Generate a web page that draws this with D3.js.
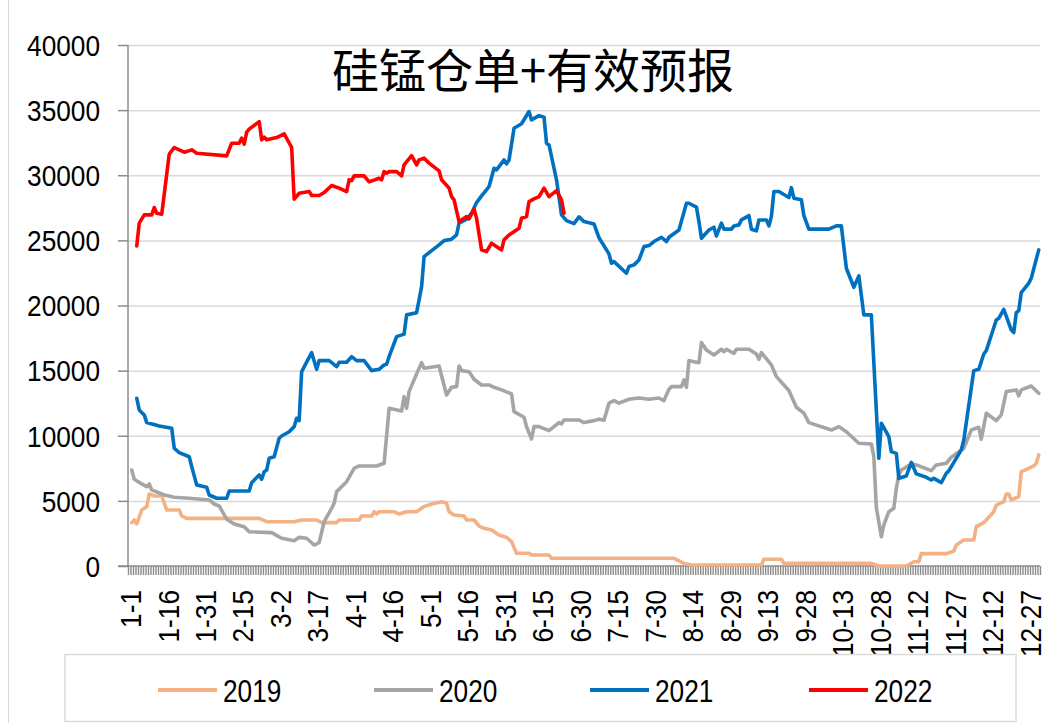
<!DOCTYPE html>
<html><head><meta charset="utf-8">
<script src="https://cdn.jsdelivr.net/npm/d3@7/dist/d3.min.js"></script>
<style>
html,body{margin:0;padding:0;background:#fff;}
svg{display:block;}
</style>
</head><body>
<svg id="c" width="1051" height="723"></svg>
<script>
// ---------- data ----------
const title = "硅锰仓单+有效预报";
const monthDays = [31,28,31,30,31,30,31,31,30,31,30,31];
const categories = [];
monthDays.forEach((n, m) => { for (let d = 1; d <= n; d++) categories.push((m + 1) + "-" + d); });
const tickLabels = ["1-1","1-16","1-31","2-15","3-2","3-17","4-1","4-16","5-1","5-16","5-31","6-15","6-30",
  "7-15","7-30","8-14","8-29","9-13","9-28","10-13","10-28","11-12","11-27","12-12","12-27"];
const yTicks = [0,5000,10000,15000,20000,25000,30000,35000,40000];
const seriesNames = ["2019","2020","2021","2022"];
const seriesColors = ["#F4B183","#A5A5A5","#0070C0","#FF0000"];

// day index (0 = 1-1) and value
const days2019 = [1,2,3,5,7,8,10,13,14,15,20,21,23,52,55,66,69,75,77,83,84,92,93,97,98,99,100,106,108,111,115,118,121,125,127,128,130,134,135,138,140,142,145,148,151,153,155,160,161,168,169,218,222,225,253,254,261,262,297,300,311,314,316,317,327,330,331,334,338,339,342,343,346,347,350,351,352,353,356,357,358,362,363,364];
const vals2019 = [3330,3530,3230,4300,4560,5530,5380,5380,4820,4300,4300,3840,3660,3660,3400,3400,3530,3530,3330,3330,3530,3530,3840,3840,4170,3990,4170,4170,3990,4170,4170,4560,4760,4940,4820,4170,3920,3840,3530,3530,3070,2890,2760,2380,2200,1870,975,975,845,845,590,590,200,80,80,520,520,200,200,0,0,330,330,950,950,1150,1610,2000,2000,3020,3330,3530,4170,4680,4940,5530,5530,5070,5320,7240,7320,7680,7890,8530];

const days2020 = [1,2,5,7,8,9,14,18,24,32,34,36,39,42,46,48,57,61,66,68,71,74,76,78,81,82,83,87,90,92,99,102,104,109,110,111,112,115,117,118,124,127,129,131,132,133,136,138,141,144,146,149,153,154,158,159,161,162,164,168,172,173,174,180,182,186,188,190,192,194,196,200,204,208,212,214,216,217,221,222,223,224,226,228,229,231,234,237,238,239,242,243,248,251,252,253,257,259,264,267,270,272,281,284,287,292,297,298,299,301,302,304,306,307,308,309,313,315,321,323,327,329,334,337,340,341,343,347,349,351,355,356,357,361,364];
const vals2020 = [7370,6660,6300,6090,6300,5840,5450,5280,5200,5070,4760,4610,3590,3230,3020,2630,2560,2130,1940,2200,2130,1610,1790,3400,4430,4820,5710,6470,7500,7680,7680,7890,12110,11900,13000,12110,13390,14750,15610,15180,15360,13130,13720,13770,15360,15000,14920,14340,13900,13900,13720,13520,13210,11850,11420,10700,9750,10700,10700,10390,11010,10910,11210,11210,11010,11160,11270,11200,12500,12700,12500,12800,12900,12800,12900,12700,13570,13770,13770,14290,13720,15770,15690,15610,17150,16590,16200,16640,16460,16640,16330,16640,16640,16280,15870,16380,15440,14540,13470,12190,11730,11010,10440,10700,10310,9420,9370,8390,4500,2250,3150,4170,4430,5970,6990,7370,7830,7760,7320,7760,7890,8350,9040,10440,10650,9730,11730,11160,11600,13390,13520,13060,13520,13820,13260];

const days2021 = [3,4,6,7,12,17,18,20,24,25,27,31,32,35,39,40,48,49,52,53,54,55,56,58,60,61,64,66,67,68,69,73,75,76,80,83,84,87,89,91,94,97,100,102,103,104,107,110,111,115,116,117,118,120,124,126,129,131,132,135,137,139,141,144,146,147,150,151,152,154,157,160,161,164,166,167,168,171,173,175,178,180,182,186,188,192,193,194,199,200,202,204,206,208,210,213,215,216,220,223,224,227,228,229,232,234,235,237,238,241,242,244,245,248,249,251,252,255,256,257,258,260,264,265,266,269,270,272,280,283,285,287,290,292,294,297,300,301,304,305,307,308,311,313,315,319,321,322,325,327,328,333,334,338,340,342,343,347,348,350,353,354,355,356,357,360,361,364];
const vals2021 = [12880,11980,11600,11010,10750,10570,9040,8700,8390,7630,6220,6040,5450,5200,5200,5760,5760,6400,6990,6660,7240,7370,8270,8390,9810,9980,10310,10700,11340,11160,14920,16380,15100,15770,15770,15310,15640,15640,16070,15770,15770,15000,15100,15440,15490,16070,17610,17800,19280,19450,20430,21450,23750,24060,24650,24980,25090,25420,26320,26630,27090,27900,28420,29130,30540,30410,31180,30870,31180,33610,33950,34890,34250,34580,34460,32460,32330,29650,26960,26520,26290,26800,26440,26260,25200,23960,23250,23370,22480,22990,23120,23500,24520,24600,24910,25240,24910,25240,25800,27850,27850,27550,26440,25170,25800,26010,25340,26320,25860,25860,26110,26190,26570,26900,25860,25730,26570,26570,26110,26830,28750,28750,28290,29050,28240,28110,26900,25860,25860,26110,26110,22860,21400,22270,19280,19280,8270,10960,9930,8780,8650,6730,6910,7960,7070,6810,6600,6730,6400,7120,7300,8910,9680,15000,15100,16280,16540,18890,19020,19710,18120,17920,19450,19610,20990,21710,22100,24270];

const days2022 = [3,4,6,9,10,11,13,16,18,22,25,27,39,41,44,45,46,47,48,52,53,54,55,59,62,65,66,68,72,73,76,78,81,84,87,88,89,90,94,96,100,101,102,103,104,107,109,110,113,115,116,118,120,124,125,128,129,130,132,134,135,136,138,139,141,143,145,149,150,152,156,157,159,160,162,164,166,168,171,173,174];
const vals2022 = [24580,26320,26960,26960,27520,27090,27010,31620,32130,31770,31950,31690,31490,32460,32460,32850,32390,33310,33540,34120,32720,32920,32720,32890,33180,32130,28160,28620,28750,28440,28440,28670,29210,29010,28750,29650,29590,29950,29950,29490,29770,29650,30280,30160,30280,30280,29950,30800,31510,30800,31180,31310,30930,30340,29650,29010,28360,28110,26440,26700,26830,26650,27390,26700,24270,24140,24780,24270,25040,25420,25930,26700,26830,27980,28190,28360,29010,28360,28820,28110,27090];

const seriesDays = [days2019, days2020, days2021, days2022];
const seriesVals = [vals2019, vals2020, vals2021, vals2022];

// ---------- drawing ----------
const svg = d3.select("#c");
const L = 128, R = 1040, T = 45, B = 566;
const x = d3.scaleBand().domain(categories).range([L, R]).padding(0);
const xc = i => x(categories[i]) + x.bandwidth() / 2;
const xb = d3.scaleLinear().domain([0, categories.length]).range([L, R]);
const y = d3.scaleLinear().domain([0, 40000]).range([B, T]);

// chart area border (left edge visible)
svg.append("line").attr("x1", 8.5).attr("x2", 8.5).attr("y1", 0).attr("y2", 723)
  .attr("stroke", "#d9d9d9").attr("stroke-width", 1);

// gridlines
const grid = svg.append("g").attr("transform", `translate(${L},0)`)
  .call(d3.axisLeft(y).tickValues(yTicks.filter(v => v > 0)).tickSize(-(R - L)).tickFormat(""));
grid.select(".domain").remove();
grid.selectAll("line").attr("stroke", "#d9d9d9").attr("stroke-width", 1.5);

// y axis
const ya = svg.append("g").attr("transform", `translate(${L},0)`)
  .call(d3.axisLeft(y).tickValues(yTicks).tickSize(10).tickFormat(""));
ya.select(".domain").attr("stroke", "#8c8c8c").attr("stroke-width", 1.5).attr("d", `M0,${T}V${B}`);
ya.selectAll("line").attr("stroke", "#8c8c8c").attr("stroke-width", 1.5);
svg.append("g").selectAll("text").data(yTicks).join("text")
  .attr("transform", d => `translate(100,${y(d)}) scale(0.875,1)`)
  .attr("dy", "0.36em").attr("text-anchor", "end")
  .attr("font-family", "'Liberation Sans', Arial, sans-serif").attr("font-size", 30)
  .attr("fill", "#000").text(d => d);

// x axis (tick marks between categories)
const xa = svg.append("g").attr("transform", `translate(0,${B})`)
  .call(d3.axisBottom(xb).tickValues(d3.range(0, categories.length + 1)).tickSize(9).tickFormat(""));
xa.select(".domain").attr("stroke", "#8c8c8c").attr("stroke-width", 1.5).attr("d", `M${L - 10},0H${R}`);
xa.selectAll("line").attr("stroke", "#8c8c8c").attr("stroke-width", 1.4);

// x labels
svg.append("g").selectAll("text").data(tickLabels).join("text")
  .attr("transform", d => `translate(${xc(categories.indexOf(d)) + 1},590) rotate(-90) scale(0.875,1)`)
  .attr("dy", "0.36em").attr("text-anchor", "end")
  .attr("font-family", "'Liberation Sans', Arial, sans-serif").attr("font-size", 30)
  .attr("fill", "#000").text(d => d);

// series
const line = d3.line().x(d => xc(d[0])).y(d => y(d[1]));
seriesNames.forEach((name, s) => {
  const pts = seriesDays[s].map((d, i) => [d, seriesVals[s][i]]);
  svg.append("path").datum(pts).attr("d", line)
    .attr("fill", "none").attr("stroke", seriesColors[s]).attr("stroke-width", 3.6)
    .attr("stroke-linejoin", "round").attr("stroke-linecap", "round");
});

// title
svg.append("text").attr("x", 533).attr("y", 72).attr("dy", "0.35em").attr("text-anchor", "middle")
  .attr("font-family", "'Noto Sans CJK SC', sans-serif").attr("font-size", 47).attr("fill", "#000")
  .text(title);

// legend
svg.append("rect").attr("x", 65).attr("y", 654.5).attr("width", 951).attr("height", 67)
  .attr("fill", "#fff").attr("stroke", "#d9d9d9").attr("stroke-width", 1.5);
const legX = [158, 374, 590, 809];
seriesNames.forEach((name, s) => {
  const g = svg.append("g").attr("transform", `translate(${legX[s]},690)`);
  g.append("line").attr("x1", 0).attr("x2", 59).attr("y1", 0).attr("y2", 0)
    .attr("stroke", seriesColors[s]).attr("stroke-width", 4);
  g.append("text").attr("transform", "translate(65,0) scale(0.82,1)").attr("dy", "0.36em")
    .attr("font-family", "'Liberation Sans', Arial, sans-serif").attr("font-size", 32)
    .attr("fill", "#000").text(name);
});
</script>
</body></html>
